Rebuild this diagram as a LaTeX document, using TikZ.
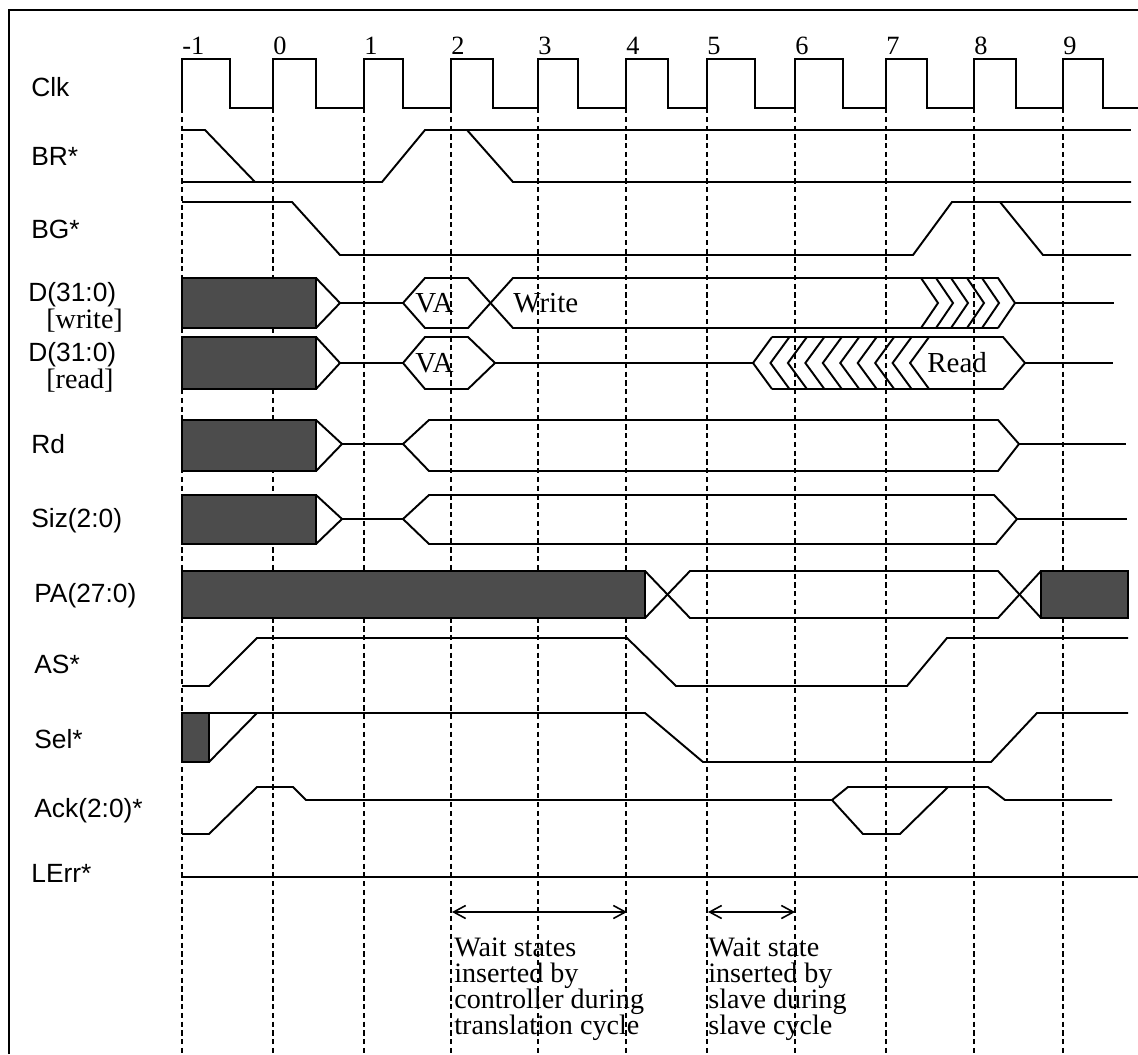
\documentclass[tikz,border=0pt]{standalone}
\usepackage{fontspec}
\setmainfont{Liberation Serif}
\newfontfamily\lblfont{Liberation Sans}
\usetikzlibrary{arrows.meta}

\tikzset{
    sig/.style={line width=1.1pt, line join=miter},
    bus/.style={fill=black!70, draw=black, line width=1.1pt},
    tick/.style={densely dashed, line width=0.6pt},
    lbl/.style={anchor=base west, inner sep=0pt, font=\lblfont\fontsize{15}{18}\selectfont},
    sub/.style={anchor=base west, inner sep=0pt, text height=8pt, font=\fontsize{16}{18}\selectfont},
    val/.style={anchor=base west, inner sep=0pt, font=\fontsize{16.5}{18}\selectfont},
    note/.style={anchor=north west, inner sep=0pt, align=left, font={\fontsize{16}{14.8}\selectfont\lineskiplimit=-6pt}},
    span/.style={line width=0.9pt, {Straight Barb[length=2.4mm, width=2.6mm]}-{Straight Barb[length=2.4mm, width=2.6mm]}}
}

\begin{document}
\begin{tikzpicture}[x=0.02cm, y=-0.02cm]

            \useasboundingbox (0,0) rectangle (1138,1054);
            \draw[line width=1.1pt] (9,1054) -- (9,10) -- (1138,10);

            \foreach \x/\n in {182/-1, 273/0, 364/1, 451/2, 538/3, 626/4, 707/5, 795/6, 886/7, 974/8, 1063/9} {
                \draw[tick] (\x,108) -- (\x,1054);
                \node (c\n) at (\x,55) [anchor=base west, inner sep=0pt, font=\fontsize{15}{16}\selectfont] {\n};
            }

            \draw[sig] (182,108) \foreach \r/\f in {182/230, 273/316, 364/403, 451/493, 538/578, 626/668, 707/755, 795/843, 886/927, 974/1016, 1063/1103} { -- (\r,108) -- (\r,59) -- (\f,59) -- (\f,108) } -- (1138,108);

            \draw[sig] (182,130) -- (205,130) -- (255,182);
            \draw[sig] (182,182) -- (382,182) -- (425,130) -- (467,130) -- (513,182) -- (1131,182);
            \draw[sig] (467,130) -- (1131,130);

            \draw[sig] (182,202) -- (292,202) -- (340,255) -- (913,255) -- (952,202) -- (1131,202);
            \draw[sig] (1000,202) -- (1043,255) -- (1131,255);

            \draw[bus] (182,278) rectangle (316,328);
            \draw[sig] (316,278) -- (340,303) -- (316,328);
            \draw[sig] (340,303) -- (403,303) -- (425,278) -- (468,278) -- (513,328) -- (998,328);
            \draw[sig] (403,303) -- (425,328) -- (468,328) -- (513,278) -- (998,278) -- (1015,303) -- (998,328);
            \foreach \t in {938,953,968,984,999}
                \draw[sig] ({\t-17},278) -- (\t,303) -- ({\t-17},328);
            \draw[sig] (1015,303) -- (1114,303);
            \node (va1) at (415,312) [val] {VA};
            \node (wr) at (513,312) [val] {Write};

            \draw[bus] (182,337) rectangle (316,389);
            \draw[sig] (316,337) -- (340,363) -- (316,389);
            \draw[sig] (340,363) -- (403,363);
            \draw[sig] (403,363) -- (425,337) -- (468,337) -- (495,363) -- (468,389) -- (425,389) -- cycle;
            \draw[sig] (495,363) -- (753,363);
            \draw[sig] (772,337) -- (1003,337) -- (1025,363) -- (1003,389) -- (772,389);
            \foreach \k in {0,...,9}
                \draw[sig] ({753+17.45*\k+19},337) -- ({753+17.45*\k},363) -- ({753+17.45*\k+19},389);
            \draw[sig] (1025,363) -- (1113,363);
            \node (va2) at (415,372) [val] {VA};
            \node (rd) at (927,372) [val] {Read};

            \draw[bus] (182,420) rectangle (316,471);
            \draw[sig] (316,420) -- (342,444) -- (316,471);
            \draw[sig] (342,444) -- (403,444);
            \draw[sig] (429,420) -- (403,444) -- (429,471) -- (998,471) -- (1019,444) -- (998,420) -- cycle;
            \draw[sig] (1019,444) -- (1126,444);

            \draw[bus] (182,495) rectangle (316,544);
            \draw[sig] (316,495) -- (342,519) -- (316,544);
            \draw[sig] (342,519) -- (403,519);
            \draw[sig] (429,495) -- (403,519) -- (429,544) -- (996,544) -- (1017,519) -- (994,495) -- cycle;
            \draw[sig] (1017,519) -- (1127,519);

            \draw[bus] (182,571) rectangle (645,618);
            \draw[sig] (645,571) -- (690,618) -- (998,618) -- (1041,571);
            \draw[sig] (645,618) -- (690,571) -- (998,571) -- (1041,618);
            \draw[bus] (1041,571) rectangle (1128,618);

            \draw[sig] (182,686) -- (209,686) -- (257,638) -- (627,638) -- (676,686) -- (907,686) -- (947,638) -- (1128,638);

            \draw[bus] (182,713) rectangle (209,762);
            \draw[sig] (209,762) -- (257,713);
            \draw[sig] (182,713) -- (645,713) -- (703,762) -- (991,762) -- (1037,713) -- (1128,713);

            \draw[sig] (182,834) -- (209,834) -- (257,787) -- (293,787) -- (306,800) -- (832,800) -- (848,787) -- (988,787) -- (1005,800) -- (1112,800);
            \draw[sig] (832,800) -- (863,834) -- (900,834) -- (948,787);

            \draw[sig] (182,877) -- (1138,877);

            \node (lclk) at (31,97) [lbl] {Clk};
            \node (lbr) at (31,166) [lbl] {BR*};
            \node (lbg) at (31,238) [lbl] {BG*};
            \node (ldw) at (28,301) [lbl, text depth=0pt] {D(31:0)};
            \node (ldwx) at (46,328) [sub] {[write]};
            \node (ldr) at (28,361) [lbl, text depth=0pt] {D(31:0)};
            \node (ldrx) at (46,388) [sub] {[read]};
            \node (lrd) at (31,453) [lbl] {Rd};
            \node (lsiz) at (31,527) [lbl] {Siz(2:0)};
            \node (lpa) at (34,602) [lbl] {PA(27:0)};
            \node (las) at (34,673) [lbl] {AS*};
            \node (lsel) at (34,748) [lbl] {Sel*};
            \node (lack) at (34,817) [lbl] {Ack(2:0)*};
            \node (lerr) at (31,882) [lbl] {LErr*};

            \coordinate (w1a) at (452,912);
            \coordinate (w1b) at (627,912);
            \coordinate (w2a) at (708,912);
            \coordinate (w2b) at (795,912);
            \draw[span] (w1a) -- (w1b);
            \draw[span] (w2a) -- (w2b);

            \node (n1) at (454,938) [note] {Wait states\\inserted by\\controller during\\translation cycle};
            \node (n2) at (708,938) [note] {Wait state\\inserted by\\slave during\\slave cycle};
        \end{tikzpicture}
\end{document}
